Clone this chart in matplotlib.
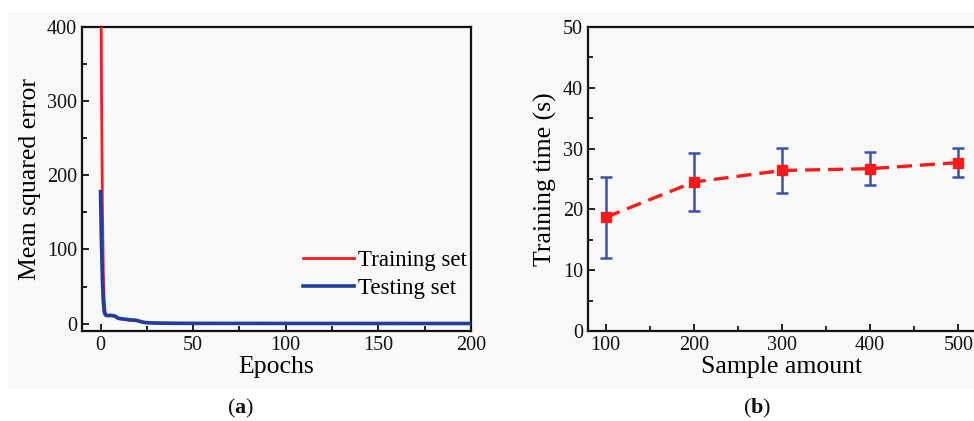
import matplotlib.pyplot as plt
from matplotlib.patches import Rectangle

# ---- data ----
train_epochs = [0, 0.5, 1, 1.5, 2, 2.5, 3, 4, 6, 8, 9, 10, 13, 16, 19, 20, 22, 24, 27, 30, 40, 50, 100, 150, 200]
train_mse = [620, 330, 160, 70, 30, 16, 11, 10.5, 10.5, 9.5, 7.5, 6.5, 5.5, 4.5, 4, 3.5, 2.2, 1.3, 0.9, 0.6, 0.4, 0.3, 0.2, 0.15, 0.1]
test_epochs = [0, 0.5, 1, 1.5, 2, 2.5, 3, 4, 6, 8, 9, 10, 13, 16, 19, 20, 22, 24, 27, 30, 40, 50, 100, 150, 200]
test_mse = [178, 110, 60, 30, 16, 12, 11, 11, 11, 10, 8, 7, 6, 5, 4.5, 4, 2.5, 1.5, 1, 0.7, 0.4, 0.3, 0.2, 0.15, 0.1]

samples = [100, 200, 300, 400, 500]
train_time = [18.7, 24.5, 26.4, 26.7, 27.7]
time_err = [6.7, 4.7, 3.7, 2.7, 2.4]

RED = '#ff1a1a'
BLUE = '#1d3f9e'
EBLUE = '#3a52a8'
BG = '#f9f9f9'

plt.rcParams['font.family'] = ['Liberation Serif', 'DejaVu Serif']
plt.rcParams['mathtext.fontset'] = 'custom'
plt.rcParams['mathtext.rm'] = 'Liberation Serif'
plt.rcParams['mathtext.bf'] = 'Liberation Serif:bold'

W, H = 974, 421
fig = plt.figure(figsize=(W / 100, H / 100), dpi=100)
fig.patch.set_facecolor('white')
# light grey panel behind both plots
fig.patches.append(Rectangle((8 / W, 1 - 389 / H), 1 - 8 / W, (389 - 12) / H,
                             transform=fig.transFigure, facecolor=BG,
                             edgecolor='none', zorder=-10))


def fx(px):
    return px / W


def fy(py):
    return 1 - py / H


ax1 = fig.add_axes([fx(82), fy(331), fx(471 - 82), (331 - 27) / H])
ax2 = fig.add_axes([fx(588), fy(331), fx(976 - 588), (331 - 27) / H])

for ax in (ax1, ax2):
    ax.set_facecolor(BG)
    for sp in ax.spines.values():
        sp.set_linewidth(1.6)
        sp.set_color('#111111')
    ax.tick_params(which='both', direction='in', top=False, right=False,
                   labelsize=14.5, colors='#111111', width=1.3)
    ax.tick_params(which='major', length=5)
    ax.tick_params(which='minor', length=3.5)

# ---- (a) loss curves ----
ax1.plot(train_epochs, train_mse, color=RED, lw=2, label='Training set', zorder=3)
ax1.plot(test_epochs, test_mse, color=BLUE, lw=2.6, label='Testing set', zorder=4)
ax1.set_xlim(-10, 200)
ax1.set_ylim(-10, 400)
ax1.set_xticks([0, 50, 100, 150, 200])
ax1.set_xticks([25, 75, 125, 175], minor=True)
ax1.set_yticks([0, 100, 200, 300, 400])
ax1.set_yticks([50, 150, 250, 350], minor=True)
ax1.set_xlabel('Epochs', fontsize=18.5, labelpad=1)
ax1.set_ylabel('Mean squared error', fontsize=18.5, labelpad=4)
leg = ax1.legend(loc='lower right', bbox_to_anchor=(1.025, 0.06), frameon=False,
                 fontsize=16.5, handlelength=2.2, handletextpad=0.2,
                 labelspacing=0.3, borderaxespad=0.2)

# ---- (b) training time ----
ax2.errorbar(samples, train_time, yerr=time_err, fmt='none', ecolor=EBLUE,
             elinewidth=1.8, capsize=4.5, capthick=1.8, zorder=3)
ax2.plot(samples, train_time, color=RED, lw=2.4, ls=(0, (4.5, 2.4)), zorder=4)
ax2.plot(samples, train_time, 's', color=RED, ms=7, zorder=5)
ax2.set_xlim(80, 520)
ax2.set_ylim(0, 50)
ax2.set_xticks(samples)
ax2.set_xticks([150, 250, 350, 450], minor=True)
ax2.set_yticks([0, 10, 20, 30, 40, 50])
ax2.set_yticks([5, 15, 25, 35, 45], minor=True)
ax2.set_xlabel('Sample amount', fontsize=18.5, labelpad=1)
ax2.set_ylabel('Training time (s)', fontsize=18.5, labelpad=4)

# ---- panel captions ----
for cx, letter in ((241, 'a'), (757, 'b')):
    fig.text(fx(cx), fy(408), r'($\mathbf{' + letter + r'}$)', ha='center',
             va='center', fontsize=16, color='#111111')

fig.savefig('out.png', dpi=100, facecolor=fig.get_facecolor())
